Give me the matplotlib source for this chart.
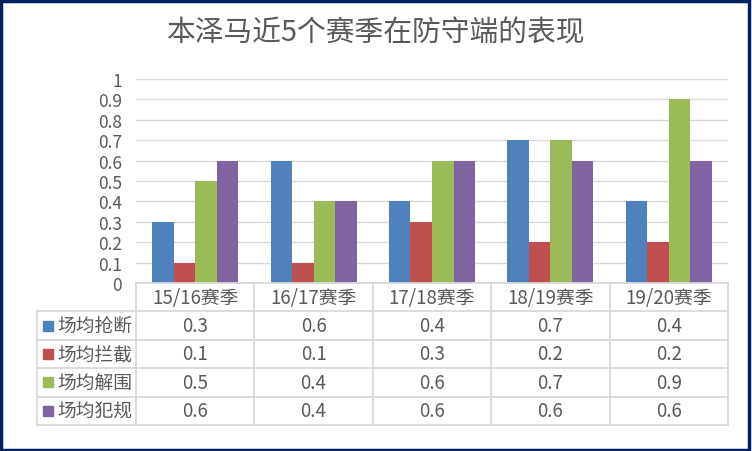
import matplotlib
matplotlib.use("Agg")
import matplotlib.pyplot as plt
from matplotlib.patches import Rectangle

plt.rcParams['font.family'] = ['Noto Sans CJK SC', 'DejaVu Sans']

# ---------------------------------------------------------------- data
title = "本泽马近5个赛季在防守端的表现"
seasons = ["15/16赛季", "16/17赛季", "17/18赛季", "18/19赛季", "19/20赛季"]
series_names = ["场均抢断", "场均拦截", "场均解围", "场均犯规"]
steals = [0.3, 0.6, 0.4, 0.7, 0.4]
interceptions = [0.1, 0.1, 0.3, 0.2, 0.2]
clearances = [0.5, 0.4, 0.6, 0.7, 0.9]
fouls = [0.6, 0.4, 0.6, 0.6, 0.6]
yticks = [0, 0.1, 0.2, 0.3, 0.4, 0.5, 0.6, 0.7, 0.8, 0.9, 1]
ytick_labels = ["0", "0.1", "0.2", "0.3", "0.4", "0.5", "0.6", "0.7", "0.8", "0.9", "1"]

colors = ["#4F81BD", "#C0504D", "#9BBB59", "#8064A2"]
text_color = "#595959"
line_color = "#D9D9D9"

W, H = 752, 452
fig = plt.figure(figsize=(W / 100, H / 100), dpi=100)

def fx(px):
    return px / W

def fy(py):
    return 1 - py / H

# ---------------------------------------------------------------- bars
ax = fig.add_axes([fx(136), fy(284), fx(728) - fx(136), fy(80) - fy(284)])
all_series = [steals, interceptions, clearances, fouls]
n = len(all_series)
bw = 1 / (n + 1.5)   # Excel gap width 150%
for k, vals in enumerate(all_series):
    xs = [i + (k - (n - 1) / 2) * bw for i in range(len(seasons))]
    ax.bar(xs, vals, width=bw, color=colors[k], zorder=2)

ax.set_xlim(-0.5, len(seasons) - 0.5)
ax.set_ylim(0, 1)
ax.set_yticks(yticks)
ax.set_yticklabels(ytick_labels)
ax.set_xticks([])
ax.tick_params(axis='y', length=0, pad=10, labelsize=12.5, labelcolor=text_color)
ax.grid(axis='y', color=line_color, linewidth=1.0, zorder=0)
for s in ax.spines.values():
    s.set_visible(False)

# ---------------------------------------------------------------- data table
legend_w = 99 / 118.4
tab = fig.add_axes([fx(37), fy(426), fx(728) - fx(37), fy(284) - fy(426)])
x0 = -0.5 - legend_w
x_end = len(seasons) - 0.5
tab.set_xlim(x0, x_end)
nrows = len(series_names) + 1
tab.set_ylim(nrows, 0)
tab.axis('off')

lw = 1.3
# horizontal lines
tab.plot([-0.5, x_end], [0, 0], color=line_color, lw=lw, clip_on=False)
for r in range(1, nrows + 1):
    tab.plot([x0, x_end], [r, r], color=line_color, lw=lw, clip_on=False)
# vertical lines
tab.plot([x0, x0], [1, nrows], color=line_color, lw=lw, clip_on=False)
for c in range(len(seasons) + 1):
    tab.plot([c - 0.5, c - 0.5], [0, nrows], color=line_color, lw=lw, clip_on=False)

fs = 13.5
for c, s in enumerate(seasons):
    tab.text(c, 0.5, s, ha='center', va='center', fontsize=fs, color=text_color)

for r, (name, vals) in enumerate(zip(series_names, all_series), start=1):
    tab.plot([x0 + 0.09], [r + 0.5], marker='s', markersize=6.5, color=colors[r - 1],
             linestyle='none', clip_on=False)
    tab.text(x0 + 0.17, r + 0.5, name, ha='left', va='center', fontsize=fs, color=text_color)
    for c, v in enumerate(vals):
        tab.text(c, r + 0.5, str(v), ha='center', va='center', fontsize=fs, color=text_color)

# ---------------------------------------------------------------- title and border
fig.text(0.5, fy(34), title, ha='center', va='center', fontsize=20.7, color=text_color)
fig.patches.append(Rectangle((fx(1.5), fy(450.5)), fx(749) - fx(1.5), fy(1.5) - fy(450.5),
                             transform=fig.transFigure, fill=False,
                             edgecolor="#002060", linewidth=2.5))

fig.savefig("out.png", dpi=100, facecolor="white")
